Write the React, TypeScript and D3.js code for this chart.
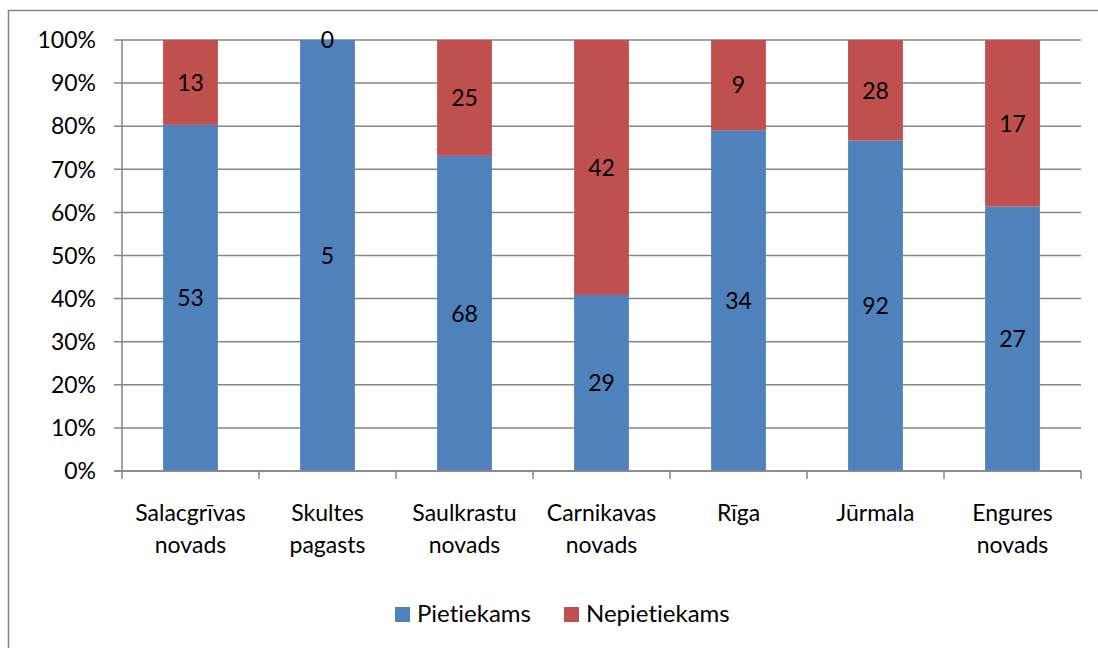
import React from "react";
import * as d3 from "d3";

const categories = [
  ["Salacgrīvas", "novads"],
  ["Skultes", "pagasts"],
  ["Saulkrastu", "novads"],
  ["Carnikavas", "novads"],
  ["Rīga"],
  ["Jūrmala"],
  ["Engures", "novads"],
];
const pietiekams = [53, 5, 68, 29, 34, 92, 27];
const nepietiekams = [13, 0, 25, 42, 9, 28, 17];
const seriesNames = ["Pietiekams", "Nepietiekams"];
const colors = ["#4F81BD", "#C0504D"];
const yTicks = [0, 10, 20, 30, 40, 50, 60, 70, 80, 90, 100];

const W = 1098;
const H = 648;
const left = 122;
const right = 1081;
const top = 40;
const bottom = 471;
const font = "Lato, 'Open Sans', sans-serif";

export default function App() {
  const idx = categories.map((_, i) => i);
  const x = d3.scaleBand<number>().domain(idx).range([left, right]).paddingInner(0.6).paddingOuter(0.3);
  const xOuter = d3.scaleBand<number>().domain(idx).range([left, right]);
  const y = d3.scaleLinear().domain([0, 100]).range([bottom, top]);
  const grid = "#868686";

  return (
    <svg width={W} height={H} style={{ position: "absolute", left: 0, top: 0, fontVariantLigatures: "none" }}>
      <rect x={0} y={0} width={W} height={H} fill="#fff" />
      <rect x={8.5} y={10.5} width={W + 20} height={H + 20} fill="none" stroke="#868686" strokeWidth={1.5} />
      {yTicks.map((t) => (
        <g key={t}>
          <line x1={left - 8} x2={right} y1={y(t)} y2={y(t)} stroke={grid} strokeWidth={1.5} />
          <text x={96} y={y(t)} dy="0.36em" textAnchor="end" fontFamily={font} fontSize={23} fill="#000">
            {t}%
          </text>
        </g>
      ))}
      <line x1={left} x2={left} y1={top} y2={bottom} stroke={grid} strokeWidth={1.5} />
      {idx.concat([idx.length]).map((i) => {
        const xx = left + i * xOuter.bandwidth();
        return <line key={i} x1={xx} x2={xx} y1={bottom} y2={bottom + 8} stroke={grid} strokeWidth={1.5} />;
      })}
      {idx.map((i) => {
        const total = pietiekams[i] + nepietiekams[i];
        const p = (pietiekams[i] / total) * 100;
        const bx = x(i)!;
        const bw = x.bandwidth();
        const cx = bx + bw / 2;
        return (
          <g key={i}>
            <rect x={bx} y={y(p)} width={bw} height={y(0) - y(p)} fill={colors[0]} />
            <rect x={bx} y={y(100)} width={bw} height={y(p) - y(100)} fill={colors[1]} />
            <text x={cx} y={(y(0) + y(p)) / 2} dy="0.36em" textAnchor="middle" fontFamily={font} fontSize={23} fill="#000">
              {pietiekams[i]}
            </text>
            <text x={cx} y={p >= 100 ? y(100) : (y(p) + y(100)) / 2} dy="0.36em" textAnchor="middle" fontFamily={font} fontSize={23} fill="#000">
              {nepietiekams[i]}
            </text>
          </g>
        );
      })}
      <line x1={left - 8} x2={right} y1={bottom} y2={bottom} stroke={grid} strokeWidth={1.5} />
      {idx.map((i) => {
        const cx = xOuter(i)! + xOuter.bandwidth() / 2;
        return categories[i].map((l, k) => (
          <text key={i + "-" + k} x={cx} y={521 + k * 32} textAnchor="middle" fontFamily={font} fontSize={23} fill="#000">
            {l}
          </text>
        ));
      })}
      {seriesNames.map((s, k) => {
        const lx = [395, 564][k];
        return (
          <g key={s}>
            <rect x={lx} y={607} width={15} height={15} fill={colors[k]} />
            <text x={lx + 22} y={622} fontFamily={font} fontSize={24} fill="#000">
              {s}
            </text>
          </g>
        );
      })}
    </svg>
  );
}
